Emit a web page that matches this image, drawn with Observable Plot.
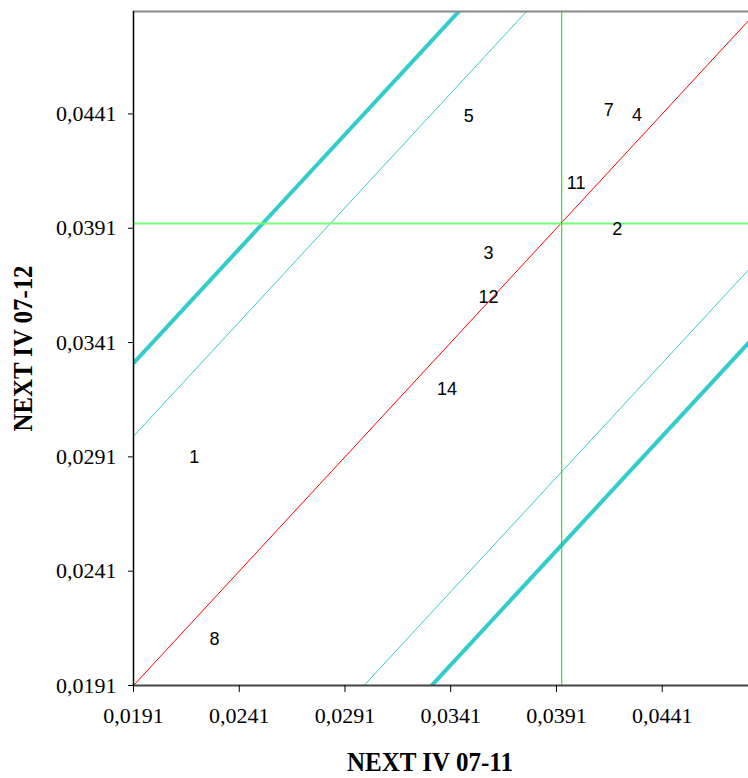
<!DOCTYPE html>
<html>
<head>
<meta charset="utf-8">
<script src="https://cdn.jsdelivr.net/npm/d3@7"></script>
<script src="https://cdn.jsdelivr.net/npm/@observablehq/plot@0.6"></script>
<style>
  html, body { margin: 0; padding: 0; background: #fff; }
  #chart svg { display: block; }
</style>
</head>
<body>
<div id="chart"></div>
<script>
// ---- data ----
const pointLabels = ["1", "2", "3", "4", "5", "7", "8", "11", "12", "14"];
const xValues = [0.02197, 0.04197, 0.03589, 0.04291, 0.03495, 0.04157, 0.02293, 0.04003, 0.03589, 0.03392];
const yValues = [0.02907, 0.03906, 0.03801, 0.04405, 0.04402, 0.04428, 0.02113, 0.04108, 0.03607, 0.03207];

const xTicks = [0.0191, 0.0241, 0.0291, 0.0341, 0.0391, 0.0441];
const yTicks = [0.0191, 0.0241, 0.0291, 0.0341, 0.0391, 0.0441];
const xDomain = [0.0191, 0.04818];
const yDomain = [0.0191, 0.04858];

const crossX = 0.03935;   // vertical reference line
const crossY = 0.03931;   // horizontal reference line
const innerBandOffsets = [0.0109, -0.0109];
const outerBandOffsets = [0.0141, -0.0141];

const xTitle = "NEXT IV 07-11";
const yTitle = "NEXT IV 07-12";

// ---- derived ----
const points = pointLabels.map((label, i) => ({label, x: xValues[i], y: yValues[i]}));
const lo = Math.min(xDomain[0], yDomain[0]);
const hi = Math.max(xDomain[1], yDomain[1]);
const diagonal = off => ({x1: lo, y1: lo + off, x2: hi, y2: hi + off});
const innerBands = innerBandOffsets.map(diagonal);
const outerBands = outerBandOffsets.map(diagonal);
const identity = [diagonal(0)];
const fmt = d => d.toFixed(4).replace(".", ",");
const serif = "Liberation Serif, Times New Roman, serif";

const chart = Plot.plot({
  width: 748,
  height: 778,
  marginLeft: 133,
  marginRight: 0,
  marginTop: 11,
  marginBottom: 93,
  style: {background: "#fff", overflow: "visible", fontFamily: serif},
  x: {domain: xDomain, ticks: xTicks, tickFormat: fmt},
  y: {domain: yDomain, ticks: yTicks, tickFormat: fmt},
  marks: [
    Plot.link(outerBands, {x1: "x1", y1: "y1", x2: "x2", y2: "y2", stroke: "#33CCCC", strokeWidth: 4, clip: true}),
    Plot.link(innerBands, {x1: "x1", y1: "y1", x2: "x2", y2: "y2", stroke: "#33CCCC", strokeWidth: 1, clip: true}),
    Plot.link(identity, {x1: "x1", y1: "y1", x2: "x2", y2: "y2", stroke: "#FF0000", strokeWidth: 1, clip: true}),
    Plot.ruleY([crossY], {stroke: "#77FF77", strokeWidth: 2}),
    Plot.ruleX([crossX], {stroke: "#00DD00", strokeWidth: 1}),
    Plot.ruleY([yDomain[1]], {stroke: "#888888", strokeWidth: 2}),
    Plot.ruleY([yDomain[0]], {stroke: "#444444", strokeWidth: 2}),
    Plot.ruleX([xDomain[0]], {stroke: "#000000", strokeWidth: 1.5}),
    Plot.text(points, {x: "x", y: "y", text: "label", fontSize: 18, fontFamily: "Liberation Sans, Arial, sans-serif", fill: "#000"}),
    Plot.axisX({ticks: xTicks, tickFormat: fmt, tickSize: 7, tickPadding: 15, fontSize: 22, fontFamily: serif, stroke: "#000", fill: "#000", label: null}),
    Plot.axisY({ticks: yTicks, tickFormat: fmt, tickSize: 5, tickPadding: 12, fontSize: 22, fontFamily: serif, stroke: "#000", fill: "#000", label: null}),
    Plot.text([xTitle], {frameAnchor: "bottom", text: d => d, dx: -11, dy: 85, fontSize: 28, fontWeight: "bold", fontFamily: serif, fill: "#000"}),
    Plot.text([yTitle], {frameAnchor: "left", textAnchor: "middle", text: d => d, dx: -110, dy: 0, rotate: -90, fontSize: 28, fontWeight: "bold", fontFamily: serif, fill: "#000"})
  ]
});
// tick labels: serif face at the reference size
d3.select(chart).selectAll("text")
  .filter(function() { return /^0,0\d{3}$/.test(this.textContent); })
  .style("font-family", "'Liberation Serif', 'Times New Roman', serif")
  .style("font-size", "22px");
// axis titles: condensed bold serif, like the reference
d3.select(chart).selectAll("text")
  .filter(function() { return this.textContent === xTitle || this.textContent === yTitle; })
  .attr("textLength", 166)
  .attr("lengthAdjust", "spacingAndGlyphs");
document.getElementById("chart").appendChild(chart);
</script>
</body>
</html>
